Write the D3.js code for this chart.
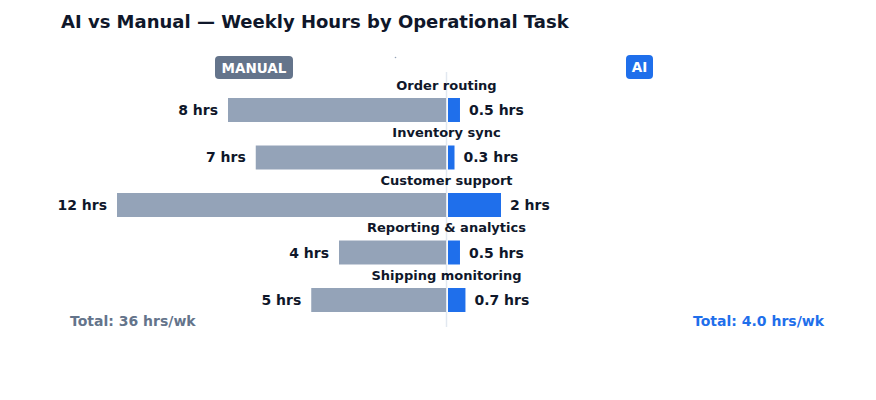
<!DOCTYPE html>
<html>
<head>
<meta charset="utf-8">
<script src="https://cdn.jsdelivr.net/npm/d3@7"></script>
<style>
  body { margin: 0; background: #fff; }
  svg { font-family: "DejaVu Sans", sans-serif; }
</style>
</head>
<body>
<div id="chart"></div>
<script>
const width = 876, height = 400;
const tasks = ["Order routing", "Inventory sync", "Customer support", "Reporting & analytics", "Shipping monitoring"];
const manualHours = [8, 7, 12, 4, 5];
const aiHours = [0.5, 0.3, 2, 0.5, 0.7];
const manualLabels = ["8 hrs", "7 hrs", "12 hrs", "4 hrs", "5 hrs"];
const aiLabels = ["0.5 hrs", "0.3 hrs", "2 hrs", "0.5 hrs", "0.7 hrs"];
const totalManual = "Total: 36 hrs/wk";
const totalAi = "Total: 4.0 hrs/wk";

const grey = "#94a3b8", blue = "#1f6feb", dark = "#0f172a", slate = "#64748b";
const cx = 446.5;

const svg = d3.select("#chart").append("svg")
  .attr("width", width).attr("height", height);

svg.append("text")
  .attr("x", 61).attr("y", 28)
  .attr("font-size", 18).attr("font-weight", "bold")
  .attr("fill", dark)
  .text("AI vs Manual — Weekly Hours by Operational Task");

// left side grows leftwards, right side grows rightwards
const xManual = d3.scaleLinear().domain([0, 12]).range([450, 117]);
const xAi = d3.scaleLinear().domain([0, 2]).range([446.3, 501]);
const y = d3.scaleBand().domain(tasks).range([98, 312]).paddingInner(0.495).paddingOuter(0);

// center divider
svg.append("line")
  .attr("x1", cx).attr("x2", cx).attr("y1", 72).attr("y2", 327)
  .attr("stroke", "#e2e8f0").attr("stroke-width", 1.5);

// badges
const badge = (x, yTop, w, h, fill, label) => {
  svg.append("rect").attr("x", x).attr("y", yTop).attr("width", w).attr("height", h)
    .attr("rx", 4).attr("fill", fill);
  svg.append("text").attr("x", x + w / 2).attr("y", yTop + h / 2 + 5)
    .attr("text-anchor", "middle").attr("font-size", 13.5).attr("font-weight", "bold")
    .attr("fill", "#fff").text(label);
};
badge(215, 56, 78, 23, slate, "MANUAL");
badge(626, 55, 27, 24, blue, "AI");

svg.append("circle").attr("cx", 395.5).attr("cy", 57.5).attr("r", 0.8).attr("fill", "#94a3b8");

const rows = svg.selectAll("g.row").data(tasks).join("g").attr("class", "row");

rows.append("rect")
  .attr("x", (d, i) => xManual(manualHours[i]))
  .attr("y", d => y(d))
  .attr("width", (d, i) => cx - 0.5 - xManual(manualHours[i]))
  .attr("height", y.bandwidth())
  .attr("fill", grey);

rows.append("rect")
  .attr("x", cx + 1.5)
  .attr("y", d => y(d))
  .attr("width", (d, i) => xAi(aiHours[i]) - cx - 1.5)
  .attr("height", y.bandwidth())
  .attr("fill", blue);

rows.append("text")
  .attr("x", cx)
  .attr("y", d => y(d) - 8.5)
  .attr("text-anchor", "middle")
  .attr("font-size", 13).attr("font-weight", "bold")
  .attr("fill", dark)
  .text(d => d);

rows.append("text")
  .attr("x", (d, i) => xManual(manualHours[i]) - 10)
  .attr("y", d => y(d) + y.bandwidth() / 2 + 5)
  .attr("text-anchor", "end")
  .attr("font-size", 14).attr("font-weight", "bold")
  .attr("fill", dark)
  .text((d, i) => manualLabels[i]);

rows.append("text")
  .attr("x", (d, i) => xAi(aiHours[i]) + 9)
  .attr("y", d => y(d) + y.bandwidth() / 2 + 5)
  .attr("font-size", 14).attr("font-weight", "bold")
  .attr("fill", dark)
  .text((d, i) => aiLabels[i]);

svg.append("text").attr("x", 70).attr("y", 326)
  .attr("font-size", 14).attr("font-weight", "bold").attr("fill", slate)
  .text(totalManual);

svg.append("text").attr("x", 824).attr("y", 326).attr("text-anchor", "end")
  .attr("font-size", 14).attr("font-weight", "bold").attr("fill", blue)
  .text(totalAi);
</script>
</body>
</html>
